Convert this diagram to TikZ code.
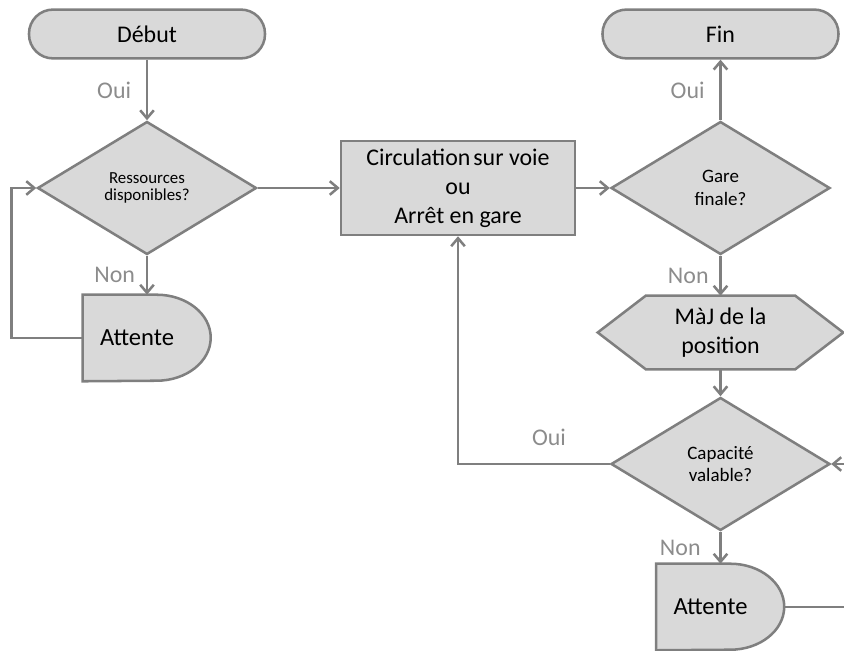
\documentclass[tikz,border=0pt]{standalone}
\usepackage{fontspec}
\setmainfont{Carlito}
\usetikzlibrary{shapes.geometric,arrows.meta,backgrounds}
\definecolor{traitgris}{RGB}{127,127,127}
\definecolor{fondgris}{RGB}{217,217,217}
\definecolor{textegris}{RGB}{140,140,140}

\begin{document}
\begin{tikzpicture}[
    trait/.style={draw=traitgris,line width=1.8pt},
    fleche/.style={trait,-{Straight Barb[length=2mm,width=3.4mm]}},
    terminal/.style={trait,fill=fondgris,rectangle,rounded corners=0.6cm,minimum width=5.9cm,minimum height=1.22cm,font=\fontsize{17}{20}\selectfont},
    test/.style={trait,fill=fondgris,diamond,minimum width=5.475cm,minimum height=3.325cm,inner sep=0pt,align=center},
    action/.style={trait,fill=fondgris,rectangle,minimum width=5.85cm,minimum height=2.35cm,align=center,font=\fontsize{17}{20.5}\selectfont},
    attente/.style={rectangle,minimum width=3.2cm,minimum height=2.15cm,inner xsep=0.425cm,text width=2.35cm,align=left,font=\fontsize{17.5}{20}\selectfont},
    calcul/.style={rectangle,minimum width=6.125cm,minimum height=1.825cm,align=center,font=\fontsize{17}{21}\selectfont},
    lbl/.style={text=textegris,font=\fontsize{17}{20}\selectfont}
  ]
    \useasboundingbox (0,0) rectangle (21.1,16.25);

    \node[terminal] (debut) at (3.675,15.4) {Début};
    \node[test,font=\fontsize{12}{12.5}\selectfont] (q1) at (3.675,11.55) {Ressources\\disponibles?};
    \node[attente] (att1) at (3.675,7.8) {Attente};
    \node[action] (circ) at (11.45,11.55) {Circulation\kern-0.1em\ sur voie\\ou\\Arrêt en gare};
    \node[test,font=\fontsize{13.5}{16}\selectfont] (q2) at (18.0125,11.55) {Gare\\finale?};
    \node[terminal] (fin) at (18.0125,15.4) {Fin};
    \node[calcul] (maj) at (18.0125,7.9375) {MàJ de la\\position};
    \node[test,font=\fontsize{13.5}{16}\selectfont] (q3) at (18.0125,4.65) {Capacité\\valable?};
    \node[attente] (att2) at (18.0125,1.075) {Attente};
    \coordinate (bordD) at (21.1,4.65);
    \coordinate (bordB) at (21.1,1.075);

    \begin{scope}[on background layer]
      \foreach \a in {att1,att2}
      \draw[trait,fill=fondgris] (\a.north west) -- ++(1.85,0)
        arc[start angle=90,end angle=-90,x radius=1.35,y radius=1.075] -- (\a.south west) -- cycle;
      \draw[trait,fill=fondgris] (maj.west) -- ([xshift=1.2cm]maj.north west) -- ([xshift=-1.2cm]maj.north east)
        -- (maj.east) -- ([xshift=-1.2cm]maj.south east) -- ([xshift=1.2cm]maj.south west) -- cycle;
    \end{scope}

    \draw[fleche] (debut.south) -- node[lbl,left=0.25cm] {Oui} (q1.north);
    \draw[fleche] (q1.south) -- node[lbl,left=0.15cm] {Non} (att1.north);
    \draw[fleche] (att1.west) -- ++(-1.775,0) |- (q1.west);
    \draw[fleche] (q1.east) -- (circ.west);
    \draw[fleche] (circ.east) -- (q2.west);
    \draw[fleche] (q2.north) -- node[lbl,left=0.25cm] {Oui} (fin.south);
    \draw[fleche] (q2.south) -- node[lbl,left=0.15cm] {Non} (maj.north);
    \draw[fleche] (maj.south) -- (q3.north);
    \draw[fleche] (q3.west) -| node[lbl,pos=0.2,above=0.32cm] {Oui} (circ.south);
    \draw[fleche] (q3.south) -- node[lbl,left=0.35cm] {Non} (att2.north);
    \draw[fleche] (bordD) -- (q3.east);
    \draw[trait] (att2.east) -- (bordB);
  \end{tikzpicture}
\end{document}
